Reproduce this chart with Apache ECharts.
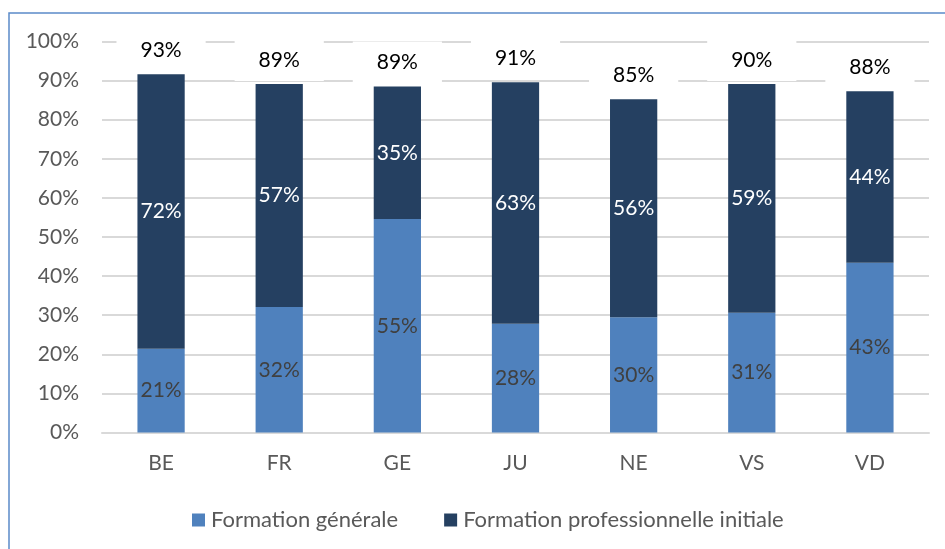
<!DOCTYPE html>
<html>
<head>
<meta charset="utf-8">
<script src="https://cdn.jsdelivr.net/npm/echarts@6/dist/echarts.min.js"></script>
<style>
html,body{margin:0;padding:0;background:#fff;}
#chart{width:945px;height:549px;}
</style>
</head>
<body>
<div id="chart"></div>
<script>
const categories = ['BE', 'FR', 'GE', 'JU', 'NE', 'VS', 'VD'];
const seriesNames = ['Formation générale', 'Formation professionnelle initiale'];
const generale = [21.4, 32.1, 54.6, 27.8, 29.5, 30.6, 43.4];
const professionnelle = [70.2, 57.0, 33.9, 61.8, 55.7, 58.5, 43.9];
const generaleLabels = ['21%', '32%', '55%', '28%', '30%', '31%', '43%'];
const professionnelleLabels = ['72%', '57%', '35%', '63%', '56%', '59%', '44%'];
const totalLabels = ['93%', '89%', '89%', '91%', '85%', '90%', '88%'];
const totalAnchor = [0, 0, 0, 0, 0, 0, 0];

const FONT = 'Lato';
const FS = 21;

const chart = echarts.init(document.getElementById('chart'), null, {renderer: 'canvas'});
chart.setOption({
  animation: false,
  backgroundColor: '#ffffff',
  textStyle: {fontFamily: FONT},
  graphic: [{
    type: 'rect',
    shape: {x: 9, y: 13, width: 960, height: 560},
    style: {fill: 'none', stroke: '#5B8BC9', lineWidth: 1.5},
    silent: true
  }],
  grid: {left: 102, right: 16, top: 41.5, bottom: 116.5, containLabel: false},
  legend: {
    data: seriesNames,
    left: 187,
    top: 504,
    itemWidth: 13,
    itemHeight: 13,
    itemGap: 46,
    icon: 'rect',
    textStyle: {fontFamily: FONT, fontSize: 22, color: '#595959', padding: [0, 0, 0, 1]}
  },
  xAxis: {
    type: 'category',
    data: categories,
    axisLine: {show: true, lineStyle: {color: '#D9D9D9', width: 2}},
    axisTick: {show: false},
    axisLabel: {fontFamily: FONT, fontSize: FS, color: '#595959', margin: 20}
  },
  yAxis: {
    type: 'value',
    min: 0,
    max: 100,
    interval: 10,
    axisLine: {show: false},
    axisTick: {show: false},
    splitLine: {show: true, lineStyle: {color: '#D9D9D9', width: 2}},
    axisLabel: {fontFamily: FONT, fontSize: FS, color: '#595959', margin: 23, formatter: '{value}%'}
  },
  series: [
    {
      name: seriesNames[0],
      type: 'bar',
      stack: 'total',
      barWidth: '40%',
      data: generale,
      itemStyle: {color: '#4F81BD'},
      label: {
        show: true, position: 'inside',
        fontFamily: FONT, fontSize: FS, color: '#404040',
        formatter: p => generaleLabels[p.dataIndex]
      }
    },
    {
      name: seriesNames[1],
      type: 'bar',
      stack: 'total',
      barWidth: '40%',
      data: professionnelle,
      itemStyle: {color: '#254061'},
      label: {
        show: true, position: 'inside',
        fontFamily: FONT, fontSize: FS, color: '#ffffff',
        formatter: p => professionnelleLabels[p.dataIndex]
      }
    },
    {
      name: 'Total',
      type: 'bar',
      stack: 'total',
      barWidth: '40%',
      data: totalAnchor,
      itemStyle: {color: 'rgba(0,0,0,0)'},
      label: {
        show: true, position: 'top', distance: 3,
        fontFamily: FONT, fontSize: FS, color: '#000000',
        backgroundColor: '#ffffff',
        padding: [10, 24],
        lineHeight: 22,
        formatter: p => totalLabels[p.dataIndex]
      }
    }
  ]
});
</script>
</body>
</html>
